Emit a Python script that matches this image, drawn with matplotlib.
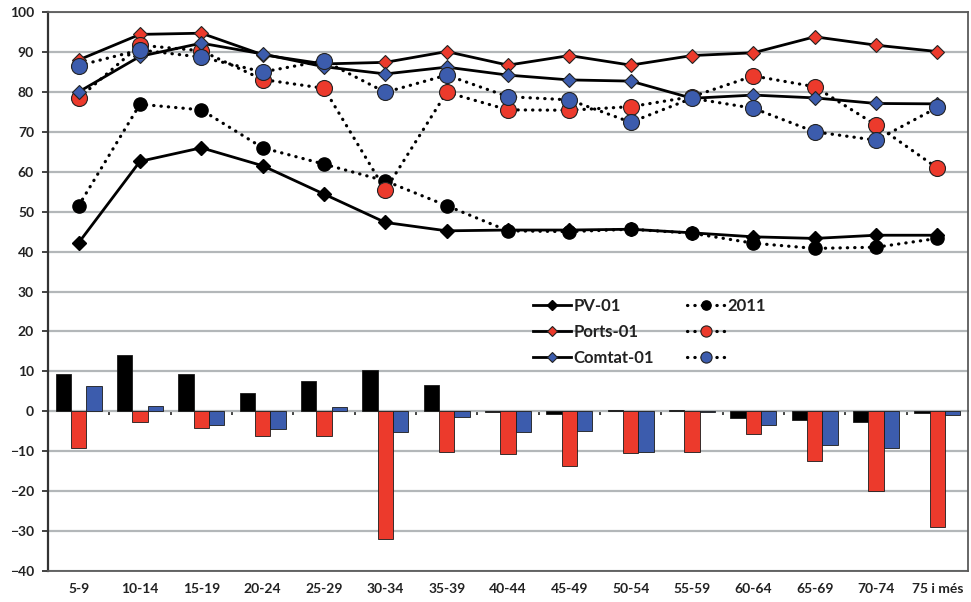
import numpy as np
import matplotlib
matplotlib.use('Agg')
import matplotlib.pyplot as plt

plt.rcParams['font.family'] = ['Lato', 'DejaVu Sans']
plt.rcParams['font.weight'] = 'bold'

# age groups
groups = ['5-9', '10-14', '15-19', '20-24', '25-29', '30-34', '35-39', '40-44',
          '45-49', '50-54', '55-59', '60-64', '65-69', '70-74', '75 i més']

# 2001 lines (solid, diamonds)
pv_01 = [42.2, 62.6, 66.0, 61.5, 54.4, 47.3, 45.2, 45.4, 45.4, 45.6, 44.7, 43.7, 43.3, 44.1, 44.1]
ports_01 = [88.0, 94.4, 94.7, 89.3, 87.0, 87.4, 90.1, 86.7, 89.1, 86.7, 89.1, 89.8, 93.8, 91.7, 90.1]
comtat_01 = [80.0, 88.9, 92.2, 89.5, 86.3, 84.5, 86.2, 84.2, 83.0, 82.7, 78.4, 79.2, 78.5, 77.1, 77.0]

# 2011 lines (dotted, circles)
pv_11 = [51.5, 76.9, 75.5, 66.0, 61.9, 57.7, 51.5, 45.2, 45.0, 45.6, 44.6, 42.1, 40.8, 41.1, 43.3]
ports_11 = [78.4, 91.7, 90.3, 83.1, 80.9, 55.4, 79.9, 75.5, 75.4, 76.3, 78.8, 84.0, 81.3, 71.7, 60.9]
comtat_11 = [86.6, 90.5, 88.7, 85.0, 87.8, 79.9, 84.2, 78.8, 78.0, 72.4, 78.4, 75.9, 70.0, 67.9, 76.1]

# bars: change 2001 -> 2011
pv_diff = [9.3, 14.1, 9.3, 4.5, 7.6, 10.3, 6.6, -0.2, -0.8, 0.3, 0.2, -1.8, -2.3, -2.8, -0.5]
ports_diff = [-9.1, -2.6, -4.3, -6.1, -6.1, -32.1, -10.1, -10.8, -13.7, -10.5, -10.1, -5.7, -12.4, -20.0, -29.1]
comtat_diff = [6.4, 1.3, -3.4, -4.4, 1.0, -5.1, -1.5, -5.3, -5.0, -10.3, -0.1, -3.4, -8.4, -9.1, -0.9]

red = '#EC3A2C'
blue = '#3C5CAD'

fig = plt.figure(figsize=(9.71, 6.02), dpi=100)
ax = fig.add_axes([0.0494, 0.0515, 0.9476, 0.9285])

x = np.arange(len(groups))
w = 0.25

# grid
ax.set_ylim(-40, 100)
ax.set_xlim(-0.5, len(groups) - 0.5)
ax.set_yticks(np.arange(-40, 101, 10))
ax.yaxis.grid(True, color='#B3B7B9', lw=1.6)
ax.set_axisbelow(True)

# bars
bar_kw = dict(width=w, edgecolor='#1a1a1a', linewidth=0.6, zorder=2)
ax.bar(x - w, pv_diff, color='black', **bar_kw)
ax.bar(x, ports_diff, color=red, **bar_kw)
ax.bar(x + w, comtat_diff, color=blue, **bar_kw)

# lines
dot = (0, (0.1, 2.2))
ax.plot(x, pv_01, color='black', lw=2.0, marker='D', ms=6.8, mfc='black', mec='black', zorder=3, label='PV-01')
ax.plot(x, pv_11, color='black', lw=2.3, ls=dot, dash_capstyle='round', marker='o', ms=9.5,
        mfc='black', mec='black', zorder=3, label='2011')
ax.plot(x, ports_01, color='black', lw=2.0, marker='D', ms=6.8, mfc=red, mec='#222222', mew=0.8, zorder=3, label='Ports-01')
ax.plot(x, ports_11, color='black', lw=2.3, ls=dot, dash_capstyle='round', marker='o', ms=11.5,
        mfc=red, mec='#222222', mew=0.8, zorder=3, label=' ')
ax.plot(x, comtat_01, color='black', lw=2.0, marker='D', ms=6.8, mfc=blue, mec='#222222', mew=0.8, zorder=3, label='Comtat-01')
ax.plot(x, comtat_11, color='black', lw=2.3, ls=dot, dash_capstyle='round', marker='o', ms=11.5,
        mfc=blue, mec='#222222', mew=0.8, zorder=3, label='  ')

# axes styling
for s in ax.spines.values():
    s.set_color('#5a5a5a')
    s.set_linewidth(1.3)
ax.spines['left'].set_color('#333333')
ax.spines['left'].set_linewidth(1.6)

ax.set_xticks(x)
ax.set_xticklabels(groups)
ax.tick_params(axis='x', length=0, pad=9, labelsize=10, colors='#222222')
ax.tick_params(axis='y', length=4, width=1.2, pad=6, labelsize=10, colors='#222222')

# zero axis with ticks between categories
zero_ax = ax.secondary_xaxis(40 / 140)
zero_ax.set_xticks(np.arange(len(groups) - 1) + 0.5)
zero_ax.tick_params(length=3, width=1.2, labelbottom=False, color='#222222')
zero_ax.spines['bottom'].set_color('#111111')
zero_ax.spines['bottom'].set_linewidth(1.3)

handles, labels = ax.get_legend_handles_labels()
order = [0, 2, 4, 1, 3, 5]
leg = ax.legend([handles[i] for i in order], [labels[i] for i in order],
                ncol=2, frameon=False, loc='upper left', bbox_to_anchor=(0.511, 0.516),
                fontsize=12, handlelength=2.3, columnspacing=2.0, labelspacing=0.6,
                handletextpad=0.1, markerscale=0.7)
for t in leg.get_texts():
    t.set_color('#222222')

fig.savefig('out.png', dpi=100)
